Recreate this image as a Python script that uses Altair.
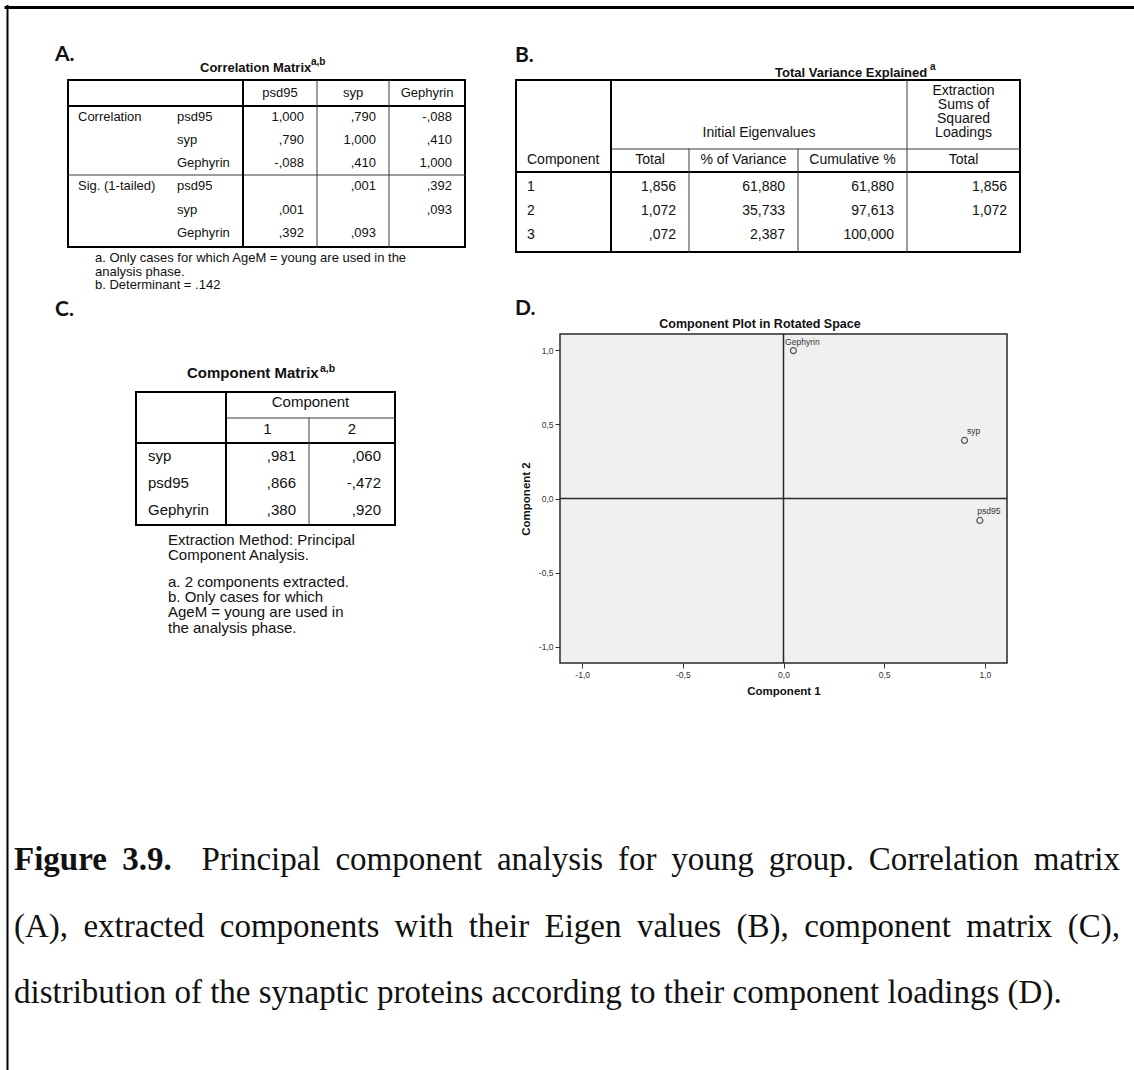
import altair as alt
import pandas as pd

W, H = 1134, 1070
SANS = "Liberation Sans"
SERIF = "Liberation Serif"
PANEL_FONT = "Lato"
INK = "#111111"
THIN = "#3a3a3a"

# ---------------- data ----------------
# A. Correlation matrix
variables = ["psd95", "syp", "Gephyrin"]
corr_values = [[1.000, 0.790, -0.088],
               [0.790, 1.000, 0.410],
               [-0.088, 0.410, 1.000]]
sig_values = [[None, 0.001, 0.392],
              [0.001, None, 0.093],
              [0.392, 0.093, None]]
row_groups = ["Correlation", "Sig. (1-tailed)"]
notes_a = ["a. Only cases for which AgeM = young are used in the",
           "analysis phase.",
           "b. Determinant = .142"]

# B. Total variance explained
component_ids = ["1", "2", "3"]
eigen_total = [1.856, 1.072, 0.072]
eigen_pct = [61.880, 35.733, 2.387]
eigen_cum = [61.880, 97.613, 100.000]
extraction_total = [1.856, 1.072, None]

# C. Component matrix
matrix_vars = ["syp", "psd95", "Gephyrin"]
loading_c1 = [0.981, 0.866, 0.380]
loading_c2 = [0.060, -0.472, 0.920]
notes_c = ["Extraction Method: Principal", "Component Analysis.",
           "a. 2 components extracted.", "b. Only cases for which",
           "AgeM = young are used in", "the analysis phase."]

# D. Loadings in rotated space
rotated_vars = ["Gephyrin", "syp", "psd95"]
rotated_c1 = [0.049, 0.899, 0.975]
rotated_c2 = [0.998, 0.392, -0.148]
axis_ticks = [-1.0, -0.5, 0.0, 0.5, 1.0]

caption_bold = "Figure 3.9."
caption_lines = [
    "Principal component analysis for young group. Correlation matrix",
    "(A), extracted components with their Eigen values (B), component matrix (C),",
    "distribution of the synaptic proteins according to their component loadings (D).",
]


def spss(v):
    """SPSS style number: comma decimal, no leading zero."""
    if v is None:
        return ""
    s = f"{abs(v):.3f}".replace(".", ",")
    if s.startswith("0,"):
        s = s[1:]
    return ("-" if v < 0 else "") + s


texts = []   # dicts: t, x, y, s, k (style key)
rules = []   # dicts: x, y, x2, y2, w, c


def txt(t, x, y, s, k):
    texts.append(dict(t=t, x=x, y=y, s=s, k=k))


def hline(x0, x1, y, w=1, c=THIN):
    rules.append(dict(x=x0, x2=x1, y=y, y2=y, w=w, c=c))


def vline(x, y0, y1, w=1, c=THIN):
    rules.append(dict(x=x, x2=x, y=y0, y2=y1, w=w, c=c))


def box(x0, x1, y0, y1, w=2):
    hline(x0, x1, y0, w, "#000")
    hline(x0, x1, y1, w, "#000")
    vline(x0, y0, y1, w, "#000")
    vline(x1, y0, y1, w, "#000")


# page frame
hline(6, W, 7.5, 3, "#000")
vline(7.5, 6, H, 2, "#000")

# panel letters
for lab, px, py in [("A.", 55, 61), ("B.", 515, 62), ("C.", 55, 316), ("D.", 515, 315)]:
    txt(lab, px, py, 21, "panel")

# ---------------- table A ----------------
A_COLS = [68, 243, 317, 389, 465]
A_TOP, A_HEAD, A_SEP, A_BOT = 80, 106, 175, 247
A_ROWS = [121, 144, 167, 190, 214, 237]
FA = 13
txt("Correlation Matrix", 200, 72, 13, "lb")
txt("a,b", 311, 65, 10, "lb")
box(A_COLS[0], A_COLS[-1], A_TOP, A_BOT)
hline(A_COLS[0], A_COLS[-1], A_HEAD, 2, "#000")
hline(A_COLS[0], A_COLS[-1], A_SEP, 1)
vline(A_COLS[1], A_TOP, A_BOT, 2, "#000")
for cx in A_COLS[2:4]:
    vline(cx, A_TOP, A_BOT, 1)
for j, v in enumerate(variables):
    txt(v, (A_COLS[j + 1] + A_COLS[j + 2]) / 2, 97, FA, "c")
txt(row_groups[0], 78, A_ROWS[0], FA, "l")
txt(row_groups[1], 78, A_ROWS[3], FA, "l")
for g, block in enumerate([corr_values, sig_values]):
    for i, v in enumerate(variables):
        yb = A_ROWS[g * 3 + i]
        txt(v, 177, yb, FA, "l")
        for j in range(3):
            txt(spss(block[i][j]), A_COLS[j + 2] - 13, yb, FA, "r")
for t, yb in zip(notes_a, [262, 275.5, 289]):
    txt(t, 95, yb, FA, "l")

# ---------------- table B ----------------
B_COLS = [516, 611, 689, 798, 907, 1020]
B_TOP, B_SUB, B_HEAD, B_BOT = 80, 149, 172, 252
B_ROWS = [191, 215, 239]
FB = 14
txt("Total Variance Explained", 775, 77, 13, "lb")
txt("a", 930, 70, 10, "lb")
box(B_COLS[0], B_COLS[-1], B_TOP, B_BOT)
hline(B_COLS[0], B_COLS[-1], B_HEAD, 2, "#000")
hline(B_COLS[1], B_COLS[-1], B_SUB, 1)
vline(B_COLS[1], B_TOP, B_BOT, 2, "#000")
vline(B_COLS[4], B_TOP, B_BOT, 1)
for cx in B_COLS[2:4]:
    vline(cx, B_SUB, B_BOT, 1)
ext_c = (B_COLS[4] + B_COLS[5]) / 2
for t, yb in zip(["Extraction", "Sums of", "Squared", "Loadings"], [95, 109, 123, 137]):
    txt(t, ext_c, yb, FB, "c")
txt("Initial Eigenvalues", (B_COLS[1] + B_COLS[4]) / 2, 137, FB, "c")
txt("Component", 527, 164, FB, "l")
for j, h in enumerate(["Total", "% of Variance", "Cumulative %", "Total"]):
    txt(h, (B_COLS[j + 1] + B_COLS[j + 2]) / 2, 164, FB, "c")
for i, cid in enumerate(component_ids):
    yb = B_ROWS[i]
    txt(cid, 527, yb, FB, "l")
    for j, col in enumerate([eigen_total, eigen_pct, eigen_cum, extraction_total]):
        txt(spss(col[i]), B_COLS[j + 2] - 13, yb, FB, "r")

# ---------------- table C ----------------
C_COLS = [136, 226, 309, 395]
C_TOP, C_SUB, C_HEAD, C_BOT = 392, 418, 443, 525
C_ROWS = [461, 488, 515]
FC = 15
txt("Component Matrix", 187, 378, 15, "lb")
txt("a,b", 320, 372, 10.5, "lb")
box(C_COLS[0], C_COLS[-1], C_TOP, C_BOT)
hline(C_COLS[0], C_COLS[-1], C_HEAD, 2, "#000")
hline(C_COLS[1], C_COLS[-1], C_SUB, 1)
vline(C_COLS[1], C_TOP, C_BOT, 2, "#000")
vline(C_COLS[2], C_SUB, C_BOT, 1)
txt("Component", (C_COLS[1] + C_COLS[3]) / 2, 407, FC, "c")
txt("1", (C_COLS[1] + C_COLS[2]) / 2, 434, FC, "c")
txt("2", (C_COLS[2] + C_COLS[3]) / 2, 434, FC, "c")
for i, v in enumerate(matrix_vars):
    yb = C_ROWS[i]
    txt(v, 148, yb, FC, "l")
    txt(spss(loading_c1[i]), C_COLS[2] - 13, yb, FC, "r")
    txt(spss(loading_c2[i]), C_COLS[3] - 14, yb, FC, "r")
for t, yb in zip(notes_c, [545, 560, 587, 602, 617, 633]):
    txt(t, 168, yb, FC, "l")

# ---------------- D title ----------------
txt("Component Plot in Rotated Space", 760, 328, 12.5, "cb")

# ---------------- caption (justified, Times metrics) ----------------
TIMES_R = dict(zip("abcdefghijklmnopqrstuvwxyz",
                   [444, 500, 444, 500, 444, 333, 500, 500, 278, 278, 500, 278, 778,
                    500, 500, 500, 500, 333, 389, 278, 500, 500, 722, 500, 500, 444]))
TIMES_R.update({"A": 722, "B": 667, "C": 667, "D": 722, "E": 611, "F": 556, "P": 556,
                " ": 250, ".": 250, ",": 250, "(": 333, ")": 333, "3": 500, "9": 500})
TIMES_B = {"F": 611, "i": 278, "g": 500, "u": 556, "r": 444, "e": 444,
           "3": 500, "9": 500, ".": 250, " ": 250}
CAP_SIZE = 33
CAP_LEFT, CAP_RIGHT = 14, 1120
CAP_BASE = [870, 937, 1003]


def word_width(w, bold):
    table = TIMES_B if bold else TIMES_R
    return sum(table.get(ch, 500) for ch in w) / 1000 * CAP_SIZE


for li, line in enumerate(caption_lines):
    tokens = []  # (word, bold, spaces after)
    if li == 0:
        bw = caption_bold.split()
        tokens += [(w, True, 1) for w in bw[:-1]] + [(bw[-1], True, 2)]
    words = line.split()
    tokens += [(w, False, 1) for w in words[:-1]] + [(words[-1], False, 0)]
    space = 0.25 * CAP_SIZE
    n_sp = sum(t[2] for t in tokens)
    total = sum(word_width(w, b) for w, b, _ in tokens)
    if li < len(caption_lines) - 1:
        gap = (CAP_RIGHT - CAP_LEFT - total) / n_sp
    else:
        gap = space
    x = CAP_LEFT
    for w, b, ns in tokens:
        txt(w, x, CAP_BASE[li], CAP_SIZE, "capb" if b else "cap")
        x += word_width(w, b) + ns * gap

# ---------------- canvas layers ----------------
XS = alt.Scale(domain=[0, W], range=[0, W], nice=False, zero=False)
YS = alt.Scale(domain=[0, H], range=[0, H], nice=False, zero=False)
tdf = pd.DataFrame(texts)
rdf = pd.DataFrame(rules)

rule_layer = alt.Chart(rdf).mark_rule(strokeCap="square").encode(
    x=alt.X("x:Q", scale=XS, axis=None), x2="x2:Q",
    y=alt.Y("y:Q", scale=YS, axis=None), y2="y2:Q",
    strokeWidth=alt.StrokeWidth("w:Q", scale=None, legend=None),
    color=alt.Color("c:N", scale=None, legend=None),
)

STYLES = {
    "l": dict(align="left", font=SANS, fontWeight="normal"),
    "r": dict(align="right", font=SANS, fontWeight="normal"),
    "c": dict(align="center", font=SANS, fontWeight="normal"),
    "lb": dict(align="left", font=SANS, fontWeight="bold"),
    "cb": dict(align="center", font=SANS, fontWeight="bold"),
    "panel": dict(align="left", font=PANEL_FONT, fontWeight="bold"),
    "cap": dict(align="left", font=SERIF, fontWeight="normal"),
    "capb": dict(align="left", font=SERIF, fontWeight="bold"),
}
text_layers = []
for key, st in STYLES.items():
    sub = tdf[tdf["k"] == key]
    if sub.empty:
        continue
    text_layers.append(
        alt.Chart(sub).mark_text(baseline="alphabetic", color=INK, **st).encode(
            x=alt.X("x:Q", scale=XS, axis=None),
            y=alt.Y("y:Q", scale=YS, axis=None),
            text="t:N",
            size=alt.Size("s:Q", scale=None, legend=None),
        )
    )
canvas = alt.layer(rule_layer, *text_layers)

# ---------------- scatter (panel D) ----------------
LIM = 1.11
PX0, PX1, PY0, PY1 = 560, 1007, 334, 663
DX = alt.Scale(domain=[-LIM, LIM], range=[PX0, PX1], nice=False, zero=False)
DY = alt.Scale(domain=[-LIM, LIM], range=[PY1, PY0], nice=False, zero=False)
LABEL_EXPR = "(datum.value < 0 ? '-' : '') + replace(format(abs(datum.value), '.1f'), '.', ',')"
axis_common = dict(values=axis_ticks, labelExpr=LABEL_EXPR, tickSize=5, tickColor="#333",
                   tickWidth=1, labelFont=SANS, labelFontSize=8.5, labelColor="#333",
                   domain=False, grid=False, titleFont=SANS, titleFontSize=11.5,
                   titleFontWeight="bold", titleColor=INK)
XAX = alt.Axis(orient="bottom", offset=PY1 - H, title="Component 1", labelPadding=2,
               titlePadding=7, **axis_common)
YAX = alt.Axis(orient="left", offset=-PX0, title="Component 2", labelPadding=2,
               titlePadding=7, **axis_common)

frame_df = pd.DataFrame({"x0": [-LIM], "x1": [LIM], "y0": [-LIM], "y1": [LIM]})
ref_df = pd.DataFrame({"x0": [0, -LIM], "x1": [0, LIM], "y0": [-LIM, 0], "y1": [LIM, 0]})
rot_df = pd.DataFrame({"name": rotated_vars, "c1": rotated_c1, "c2": rotated_c2})

bg = alt.Chart(frame_df).mark_rect(fill="#f0f0f0", stroke="#2a2a2a", strokeWidth=1.5).encode(
    x=alt.X("x0:Q", scale=DX, axis=XAX), x2="x1:Q",
    y=alt.Y("y0:Q", scale=DY, axis=YAX), y2="y1:Q")
refs = alt.Chart(ref_df).mark_rule(color="#2a2a2a", strokeWidth=1.5).encode(
    x=alt.X("x0:Q", scale=DX, axis=XAX), x2="x1:Q",
    y=alt.Y("y0:Q", scale=DY, axis=YAX), y2="y1:Q")
pts = alt.Chart(rot_df).mark_point(shape="circle", filled=False, size=36,
                                   color="#555", strokeWidth=1.2, opacity=1).encode(
    x=alt.X("c1:Q", scale=DX, axis=XAX), y=alt.Y("c2:Q", scale=DY, axis=YAX))
labels = alt.Chart(rot_df).mark_text(align="center", baseline="alphabetic", dx=9, dy=-6,
                                     font=SANS, fontSize=8.5, color="#333").encode(
    x=alt.X("c1:Q", scale=DX, axis=XAX), y=alt.Y("c2:Q", scale=DY, axis=YAX),
    text="name:N")
scatter = alt.layer(bg, refs, pts, labels)

chart = alt.layer(canvas, scatter).resolve_scale(
    x="independent", y="independent"
).properties(
    width=W, height=H, padding=0, autosize=alt.AutoSizeParams(type="none")
).configure_view(stroke=None)

chart.save("out.html", embed_options={"renderer": "svg", "actions": False})
